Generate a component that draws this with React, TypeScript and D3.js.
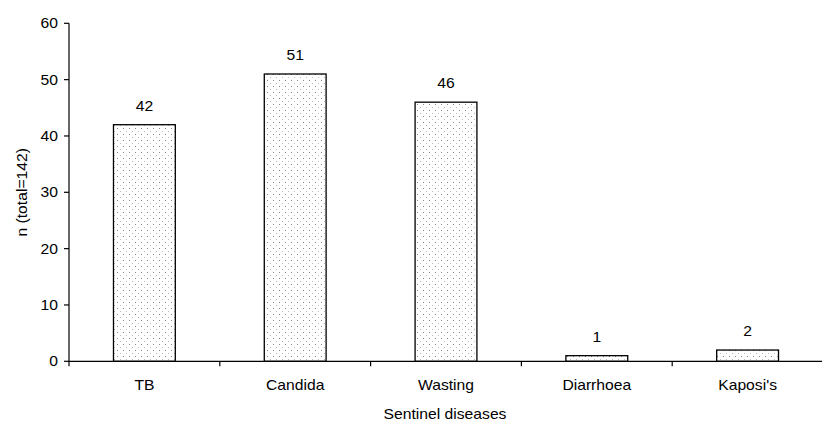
import React, { useEffect, useRef } from "react";
import * as d3 from "d3";

const categories = ["TB", "Candida", "Wasting", "Diarrhoea", "Kaposi's"];
const values = [42, 51, 46, 1, 2];
const yTicks = [0, 10, 20, 30, 40, 50, 60];

export default function App() {
  const ref = useRef<SVGSVGElement>(null);
  useEffect(() => {
    const svg = d3.select(ref.current);
    svg.selectAll("*").remove();
    const left = 69, right = 823, top = 23.3, bottom = 361.3;
    const font = "'Liberation Sans', Arial, sans-serif";
    const FS = 14;
    const SX = 1.12;

    const txt = (parent: any, x: number, y: number, s: string, anchor: string, dy = "0") =>
      parent.append("text")
        .attr("transform", `translate(${x},${y}) scale(${SX},1)`)
        .attr("dy", dy)
        .attr("text-anchor", anchor).attr("font-family", font).attr("font-size", FS).attr("fill", "#000")
        .text(s);

    const defs = svg.append("defs");
    const pat = defs.append("pattern").attr("id", "dots").attr("patternUnits", "userSpaceOnUse")
      .attr("width", 6).attr("height", 6);
    pat.append("rect").attr("width", 6).attr("height", 6).attr("fill", "#fff");
    pat.append("rect").attr("x", 3).attr("y", 2).attr("width", 1).attr("height", 1).attr("fill", "#888");
    pat.append("rect").attr("x", 0).attr("y", 5).attr("width", 1).attr("height", 1).attr("fill", "#bbb");

    const x = d3.scaleBand<string>().domain(categories).range([left, right]).paddingInner(0.59).paddingOuter(0.295);
    const xb = d3.scaleBand<string>().domain(categories).range([left, right]);
    const y = d3.scaleLinear().domain([0, 60]).range([bottom, top]);

    const g = svg.append("g");
    g.selectAll("rect.bar").data(values).enter().append("rect")
      .attr("x", (_, i) => x(categories[i])!)
      .attr("y", (d) => y(d))
      .attr("width", x.bandwidth())
      .attr("height", (d) => y(0) - y(d))
      .attr("fill", "url(#dots)")
      .attr("stroke", "#000").attr("stroke-width", 1.3);

    values.forEach((d, i) => {
      txt(g, x(categories[i])! + x.bandwidth() / 2, y(d) - 14, String(d), "middle");
    });

    // y axis
    const ya = svg.append("g");
    ya.append("line").attr("x1", left).attr("x2", left).attr("y1", top).attr("y2", bottom).attr("stroke", "#000").attr("stroke-width", 1.2);
    yTicks.forEach((t) => {
      ya.append("line").attr("x1", left - 5).attr("x2", left).attr("y1", y(t)).attr("y2", y(t)).attr("stroke", "#000").attr("stroke-width", 1.2);
      txt(ya, left - 11, y(t), String(t), "end", "0.35em");
    });

    // x axis
    const xa = svg.append("g");
    xa.append("line").attr("x1", left).attr("x2", right).attr("y1", bottom).attr("y2", bottom).attr("stroke", "#000").attr("stroke-width", 1.2);
    categories.forEach((c) => {
      const bx = xb(c)!;
      xa.append("line").attr("x1", bx).attr("x2", bx).attr("y1", bottom).attr("y2", bottom + 5).attr("stroke", "#000").attr("stroke-width", 1.2);
      txt(xa, bx + xb.bandwidth() / 2, bottom + 29, c, "middle");
    });

    txt(svg, 445, 419, "Sentinel diseases", "middle");
    svg.append("text").attr("transform", `translate(27,${(top + bottom) / 2}) rotate(-90) scale(${SX},1)`).attr("text-anchor", "middle")
      .attr("font-family", font).attr("font-size", FS).attr("fill", "#000").text("n (total=142)");
  }, []);
  return (
    <svg ref={ref} width={822} height={422} style={{ position: "absolute", left: 0, top: 0, background: "#fff" }} />
  );
}
